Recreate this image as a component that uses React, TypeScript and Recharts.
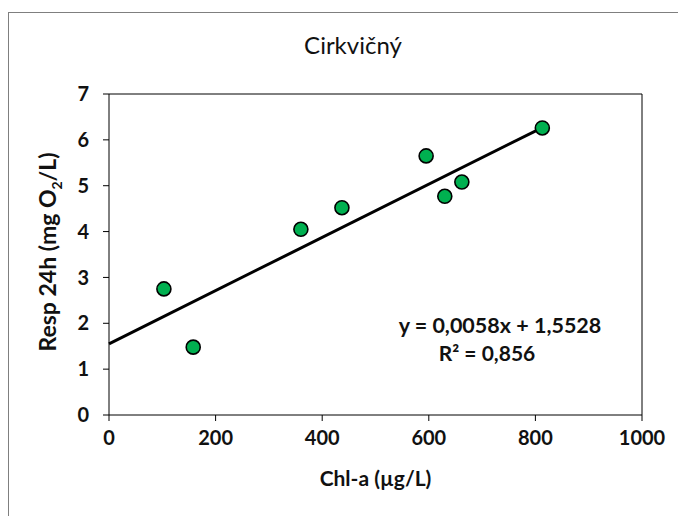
import { ScatterChart, Scatter, XAxis, YAxis, ReferenceLine } from "recharts";

const chlA = [103, 158, 360, 437, 595, 630, 662, 813];
const resp24h = [2.75, 1.48, 4.05, 4.52, 5.65, 4.77, 5.08, 6.26];
const xTicks = [0, 200, 400, 600, 800, 1000];
const yTicks = [0, 1, 2, 3, 4, 5, 6, 7];
const slope = 0.0058;
const intercept = 1.5528;
const equation = "y = 0,0058x + 1,5528";
const rSquared = "0,856";
const trendRange = [0, 813];

const points = chlA.map((x, i) => ({ x, y: resp24h[i] }));
const font = "Lato, 'Open Sans', sans-serif";

const Dot = (props: any) => {
  const { cx, cy } = props;
  return <circle cx={cx} cy={cy} r={7} fill="#00B050" stroke="#000" strokeWidth={1.6} />;
};

export default function App() {
  return (
    <div style={{ position: "absolute", left: 0, top: 0, width: 678, height: 516, overflow: "hidden", background: "#fff", fontFamily: font }}>
      <div style={{ position: "absolute", left: 8, top: 12, width: 720, height: 600, border: "1px solid #7f7f7f" }} />
      <div style={{ position: "absolute", left: 0, top: 30, width: 706, textAlign: "center", fontSize: 24, color: "#111" }}>
        Cirkvičný
      </div>
      <ScatterChart
        width={678}
        height={516}
        margin={{ top: 94, right: 36, left: 58, bottom: 0 }}
        style={{ position: "absolute", left: 0, top: 0 }}
      >
        <XAxis
          type="number"
          dataKey="x"
          domain={[0, 1000]}
          ticks={xTicks}
          stroke="#000"
          tickSize={6}
          tickMargin={10}
          height={101}
          tick={{ fontSize: 20, fontWeight: 700, fill: "#111", fontFamily: font }}
          label={{ value: "Chl-a (µg/L)", position: "insideTop", offset: 56, style: { fontSize: 21, fontWeight: 700, fill: "#111", fontFamily: font } }}
        />
        <YAxis
          type="number"
          dataKey="y"
          domain={[0, 7]}
          ticks={yTicks}
          stroke="#000"
          tickSize={6}
          tickMargin={14}
          width={51}
          tick={{ fontSize: 20, fontWeight: 700, fill: "#111", fontFamily: font }}
        />
        <ReferenceLine y={7} stroke="#000" />
        <ReferenceLine x={1000} stroke="#000" />
        <ReferenceLine
          segment={[
            { x: trendRange[0], y: intercept + slope * trendRange[0] },
            { x: trendRange[1], y: intercept + slope * trendRange[1] },
          ]}
          stroke="#000"
          strokeWidth={3}
        />
        <Scatter data={points} shape={<Dot />} isAnimationActive={false} />
      </ScatterChart>
      <div style={{ position: "absolute", left: 49, top: 252, transform: "translate(-50%, -50%) rotate(-90deg)", whiteSpace: "nowrap", fontSize: 23, fontWeight: 700, color: "#111" }}>
        Resp 24h (mg O<sub style={{ fontSize: 14 }}>2</sub>/L)
      </div>
      <div style={{ position: "absolute", left: 380, top: 311, width: 240, textAlign: "center", fontSize: 21.5, fontWeight: 700, color: "#111", lineHeight: "28px" }}>
        {equation}
      </div>
      <div style={{ position: "absolute", left: 367, top: 339, width: 240, textAlign: "center", fontSize: 21, fontWeight: 700, color: "#111", lineHeight: "28px" }}>
        R² = {rSquared}
      </div>
    </div>
  );
}
